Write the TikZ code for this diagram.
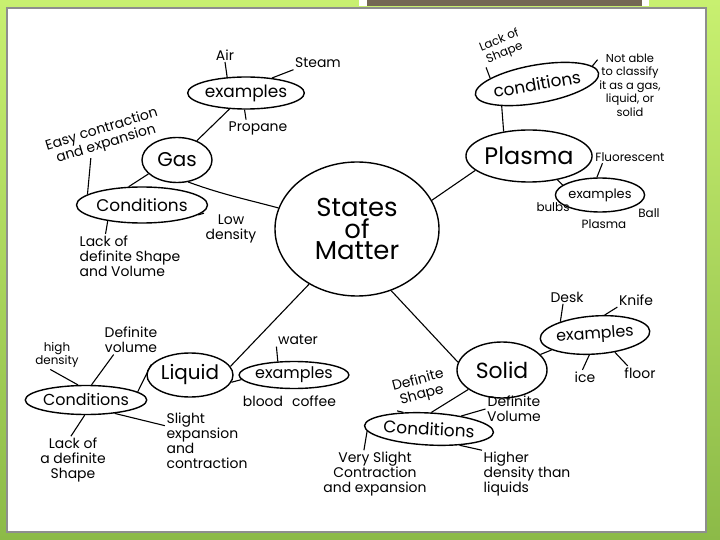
\documentclass[tikz,border=0pt]{standalone}
\usepackage{fontspec}
\setmainfont{Poppins}
\usetikzlibrary{shapes.geometric,calc}
\definecolor{bgtop}{HTML}{C8F070}
\definecolor{bgmid}{HTML}{A9D85A}
\definecolor{bgbot}{HTML}{8CBA48}
\definecolor{barcol}{HTML}{736654}
\definecolor{framecol}{HTML}{8E8E8E}
\begin{document}
\begin{tikzpicture}[x=1bp,y=-1bp,
  bub/.style={draw=black, line width=1.4bp, ellipse, inner sep=0pt},
  mid/.style={font=\fontsize{16}{16}\selectfont},
  midl/.style={font=\fontsize{17}{17}\selectfont},
  note/.style={font=\fontsize{14}{15}\selectfont, inner sep=1.5bp, align=center},
  ln/.style={draw=black, line width=1.1bp}]
\useasboundingbox (0,0) rectangle (720,540);
\shade[top color=bgtop,middle color=bgmid,bottom color=bgbot] (0,0) rectangle (720,540);
\draw[framecol,line width=1.6bp,fill=white] (7,8) rectangle (706,532);
\fill[white] (359,0) rectangle (649,6.5);
\fill[barcol] (367,0) rectangle (642,6);

% centre
\node[bub, minimum width=164bp, minimum height=134bp, font=\fontsize{26}{22}\selectfont, align=center] (som) at (357,229) {States\\of\\Matter};

% gas
\node[bub, minimum width=70bp, minimum height=45bp, font=\fontsize{20}{20}\selectfont] (gas) at (177,160) {Gas};
\node[bub, minimum width=115bp, minimum height=32bp, midl] (gasex) at (246,93) {examples};
\node[bub, minimum width=131bp, minimum height=36bp, midl] (gascond) at (142,205) {Conditions};
\node[note] (air) at (225,55) {Air};
\node[note] (steam) at (318,63) {Steam};
\node[note] (propane) at (258,128) {Propane};
\node[note, rotate=17] (easy) at (104,137) {Easy contraction\\and expansion};
\node[note] (lowd) at (231,229) {Low\\density};
\node[note, align=left] (lackgas) at (130,256) {Lack of\\definite Shape\\and Volume};
\draw[ln] (gas) -- (gasex);
\draw[ln] (gas.206) -- (gascond.126);
\draw[ln] (gas.-63) to[out=-20,in=165] (som.165);
\draw[ln] (gasex.140) -- (air.south);
\draw[ln] (gasex.30) -- (steam.south west);
\draw[ln] (gasex.-95) -- (propane.145);
\draw[ln] (gascond.169) -- (easy.221);
\draw[ln] (gascond.-10) -- (lowd.north west);
\draw[ln] (gascond.-155) -- (lackgas.138);

% plasma
\node[bub, rotate=10, minimum width=122bp, minimum height=38bp, midl] (pcond) at (537,84) {conditions};
\node[note, rotate=22, font=\fontsize{12}{14}\selectfont] (lackshape) at (502,47) {Lack of\\Shape};
\node[note, font=\fontsize{11.5}{13.5}\selectfont] (notable) at (630,85) {Not able\\to classify\\it as a gas,\\liquid, or\\solid};
\node[bub, minimum width=98bp, minimum height=52bp, font=\fontsize{24}{24}\selectfont] (plasma) at (529,156) {Plasma};
\node[bub, minimum width=58bp, minimum height=34bp, font=\fontsize{13}{13}\selectfont] (pex) at (600,195) {examples};
\node[note, font=\fontsize{12}{12}\selectfont] (fluor) at (630,157) {Fluorescent};
\node[note, font=\fontsize{12}{12}\selectfont] (bulbs) at (553,207) {bulbs};
\node[note, font=\fontsize{12}{12}\selectfont] (pball) at (604,224) {Plasma};
\node[note, font=\fontsize{12}{12}\selectfont] (ball) at (649,213) {Ball};
\draw[ln] (pcond.202) -- (plasma.136);
\draw[ln] (plasma.195) -- (som.21);
\draw[ln] (plasma.-40) -- (pex.165);
\draw[ln] (pcond.163) -- (lackshape.-150);
\draw[ln] (pcond.8) -- (notable.142);
\draw[ln] (pex.100) -- ($(fluor.south west)!0.12!(fluor.south east)$);

% liquid
\node[bub, minimum width=86bp, minimum height=44bp, font=\fontsize{20}{20}\selectfont] (liquid) at (190,375) {Liquid};
\node[bub, minimum width=90bp, minimum height=27bp, mid] (lex) at (294,375) {examples};
\node[bub, minimum width=110bp, minimum height=29bp, mid] (lcond) at (86,400) {Conditions};
\node[note] (water) at (298,340) {water};
\node[note] (blood) at (263,401) {blood};
\node[note] (coffee) at (314,401) {coffee};
\node[note, font=\fontsize{12}{11}\selectfont] (highd) at (57,355) {high\\density};
\node[note] (defvol) at (131,340) {Definite\\volume};
\node[note, align=left] (slight) at (207,441) {Slight\\expansion\\and\\contraction};
\node[note] (lacka) at (73,460) {Lack of\\a definite\\Shape};
\draw[ln] (liquid.12) -- (som.229);
\draw[ln] (liquid.-10) -- (lex.185);
\draw[ln] (liquid.165) -- (lcond.9);
\draw[ln] (lex.140) -- (water.south west);
\draw[ln] (lcond.118) -- (highd.-115);
\draw[ln] (lcond.70) -- (defvol.-140);
\draw[ln] (lcond.-25) -- (slight.160);
\draw[ln] (lcond.-95) -- (lacka.95);

% solid
\node[bub, minimum width=90bp, minimum height=56bp, font=\fontsize{22}{22}\selectfont] (solid) at (502,370) {Solid};
\node[bub, rotate=4, minimum width=88bp, minimum height=38bp, mid] (sex) at (595,335) {examples};
\node[bub, rotate=-3, minimum width=120bp, minimum height=32bp, font=\fontsize{17}{17}\selectfont] (scond) at (429,429) {Conditions};
\node[note] (desk) at (567,297) {Desk};
\node[note] (knife) at (636,300) {Knife};
\node[note] (ice) at (585,377) {ice};
\node[note] (floor) at (640,373) {floor};
\node[note, rotate=15] (defshape) at (420,388) {Definite\\Shape};
\node[note] (defvols) at (514,409) {Definite\\Volume};
\node[note] (veryslight) at (375,474) {Very Slight\\Contraction\\and expansion};
\node[note, align=left] (higher) at (527,474) {Higher\\density than\\liquids};
\draw[ln] (solid.170) -- (som.-61);
\draw[ln] (solid.22) -- (sex.195);
\draw[ln] (solid.210) -- (scond.85);
\draw[ln] (sex.155) -- (desk.-120);
\draw[ln] (sex.60) -- (knife.south west);
\draw[ln] (sex.-110) -- (ice.110);
\draw[ln] (sex.-45) -- (floor.150);
\draw[ln] (scond.150) -- (defshape.-150);
\draw[ln] (scond.25) -- (defvols.west);
\draw[ln] (scond.185) -- (veryslight.115);
\draw[ln] (scond.-25) -- (higher.north west);
\end{tikzpicture}
\end{document}
